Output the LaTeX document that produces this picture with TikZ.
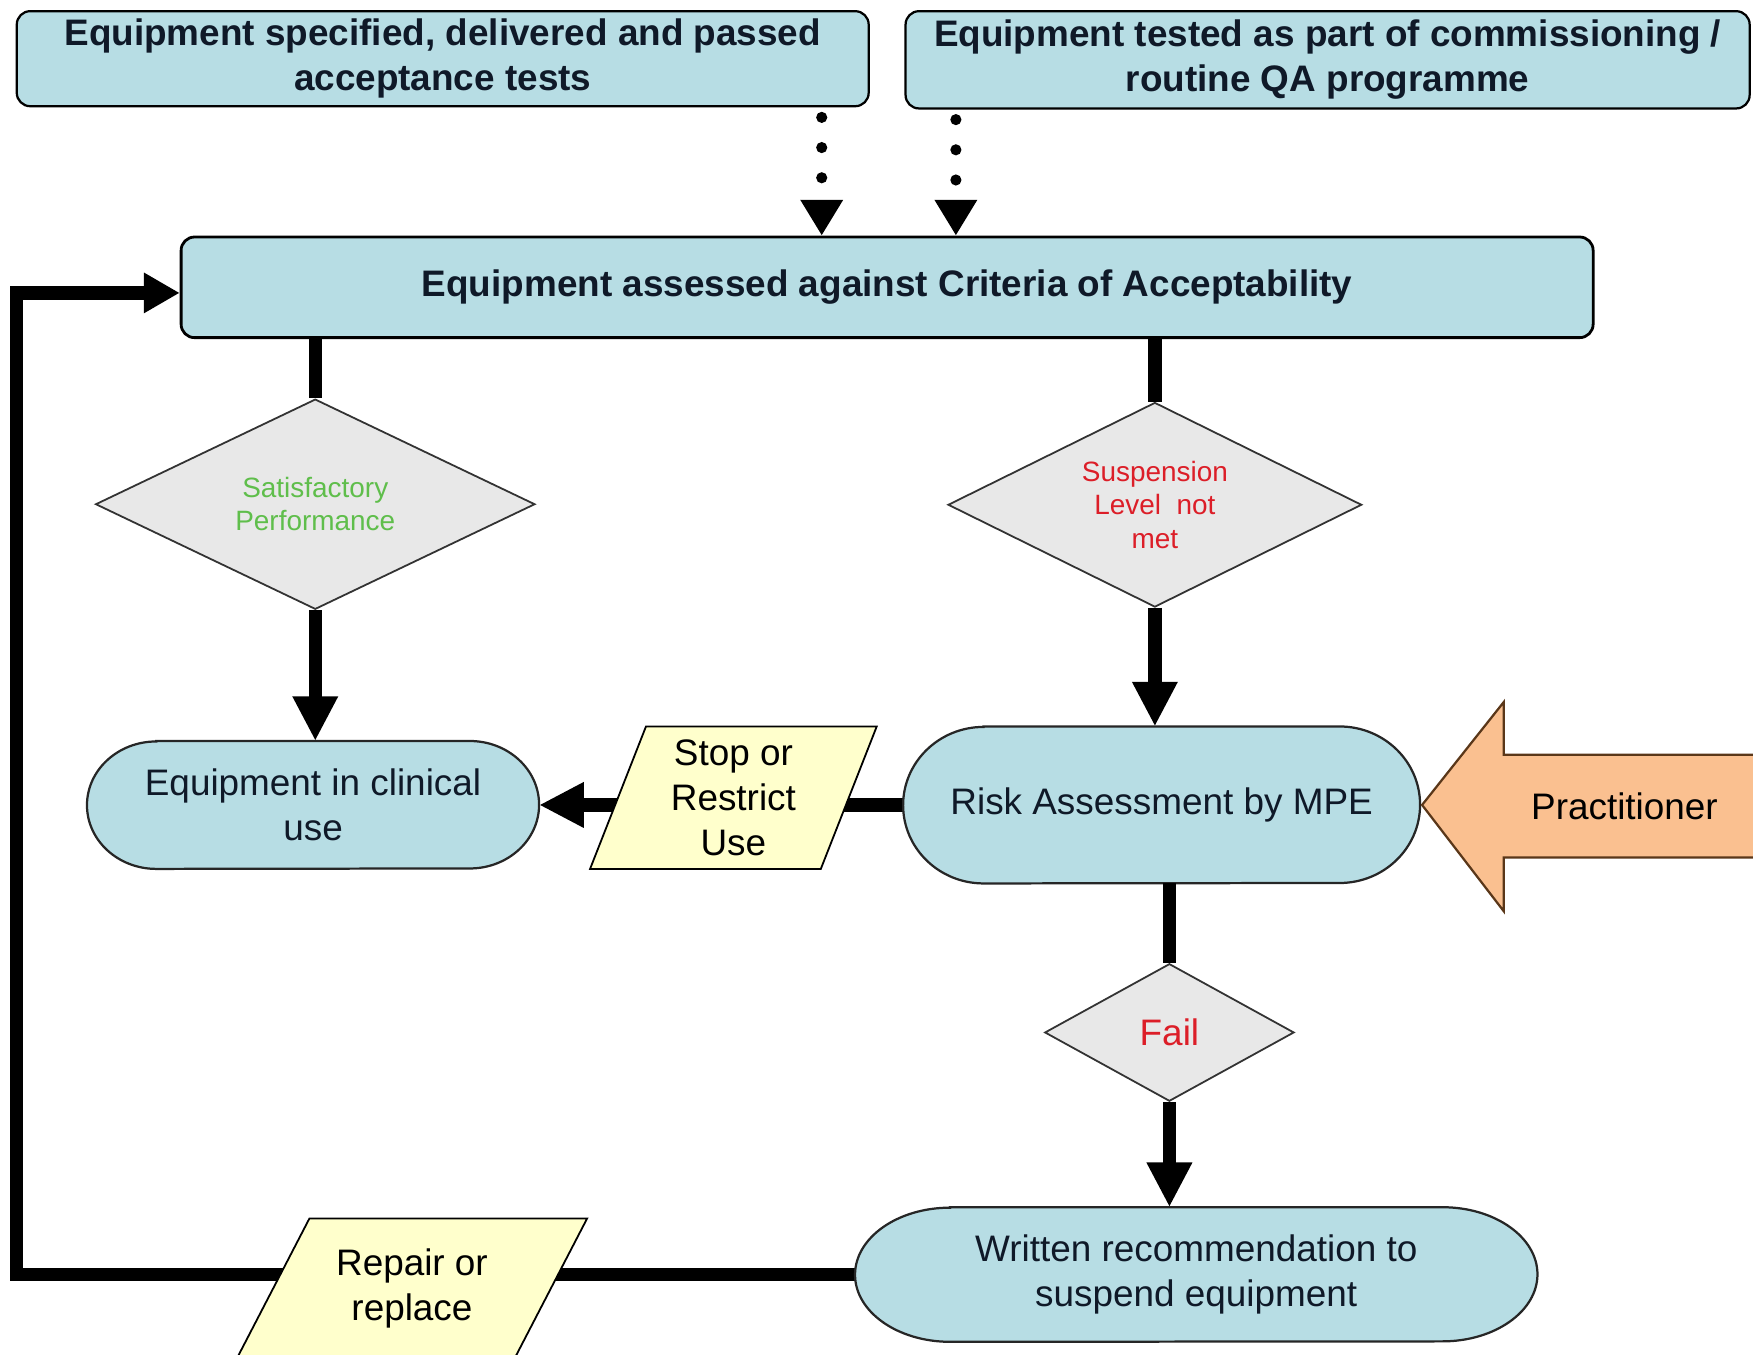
\documentclass[tikz,border=0pt]{standalone}
\usepackage{fontspec}
\setmainfont{Liberation Sans}
\usetikzlibrary{arrows.meta,shapes.geometric,calc,backgrounds}
\definecolor{boxblue}{RGB}{183,221,228}
\definecolor{dgray}{RGB}{232,232,232}
\definecolor{pyellow}{RGB}{255,255,204}
\definecolor{porange}{RGB}{250,192,144}
\definecolor{pbrown}{RGB}{90,55,25}
\definecolor{okgreen}{RGB}{95,190,75}
\definecolor{badred}{RGB}{220,30,40}
\definecolor{ink}{RGB}{15,25,40}
\newcommand{\capsule}[3]{%
  \draw[capline] ($(#1.north west)+(#2,0)$) -- ($(#1.north east)+(-#2,0)$)
    arc[start angle=90,end angle=-90,x radius=#2,y radius=#3]
    -- ($(#1.south west)+(#2,0)$)
    arc[start angle=270,end angle=90,x radius=#2,y radius=#3] -- cycle;}
\newcommand{\parash}[2]{%
  \draw[paraline] ($(#1.north west)+(#2,0)$) -- ($(#1.north east)+(#2,0)$)
    -- ($(#1.south east)+(-#2,0)$) -- ($(#1.south west)+(-#2,0)$) -- cycle;}
\begin{document}
\begin{tikzpicture}[x=1pt,y=1pt,
 topbox/.style={draw=black, line width=2pt, fill=boxblue, rounded corners=12pt, align=center, text=ink, font=\bfseries\fontsize{33}{40}\selectfont, inner sep=0pt},
 capnode/.style={align=center, text=ink, font=\fontsize{33}{40}\selectfont, inner sep=0pt},
 capline/.style={draw=black!85, line width=2pt, fill=boxblue},
 decision/.style={diamond, aspect=2, draw=black!80, line width=1.6pt, fill=dgray, inner sep=0pt, align=center, font=\fontsize{25}{30}\selectfont},
 paranode/.style={align=center, text=black, font=\fontsize{33}{40}\selectfont, inner sep=0pt},
 paraline/.style={draw=black, line width=1.6pt, fill=pyellow},
 conn/.style={line width=12pt},
 arr/.style={conn, -{Triangle[length=40pt,width=38pt]}},
 dotarr/.style={line width=10pt, line cap=round, dash pattern=on 0pt off 27pt, shorten <=9pt, -{Triangle[length=32pt,width=36pt]}},
]
\useasboundingbox (0,0) rectangle (1568,-1212);

% boxes
\node[topbox, minimum width=762pt, minimum height=85pt] (top1) at (396,-52.5) {Equipment specified, delivered and passed\\acceptance tests};
\node[topbox, minimum width=755pt, minimum height=87pt] (top2) at (1187.5,-53.5) {Equipment tested as part of commissioning /\\routine QA programme};
\node[topbox, line width=2.5pt, minimum width=1263pt, minimum height=90pt] (main) at (793.5,-257) {Equipment assessed against Criteria of Acceptability};

% decisions
\node[decision, minimum width=393pt, minimum height=188pt, text=okgreen] (d1) at (282,-451) {Satisfactory\\Performance};
\node[decision, minimum width=370pt, minimum height=183pt, text=badred] (d2) at (1033,-451.5) {Suspension\\Level\ \ not\\met};
\node[decision, minimum width=223pt, minimum height=123pt, text=badred, font=\fontsize{33}{40}\selectfont] (d3) at (1046,-923.5) {Fail};

% terminals
\node[capnode, minimum width=404pt, minimum height=114pt] (t1) at (280,-720) {Equipment in clinical\\use};
\node[capnode, minimum width=462pt, minimum height=140pt] (rk) at (1039,-720) {Risk Assessment by MPE};
\node[capnode, minimum width=610pt, minimum height=120pt] (wr) at (1070,-1140) {Written recommendation to\\suspend equipment};

% parallelograms
\node[paranode, minimum width=206pt, minimum height=127pt] (stop) at (656,-713.5) {Stop or\\Restrict\\Use};
\node[paranode, minimum width=248pt, minimum height=125pt] (rep) at (368.5,-1152.5) {Repair or\\replace};

\coordinate (lp) at (15,-1140);
\coordinate (da) at (735,0);
\coordinate (db) at (855,0);

\begin{scope}[on background layer]
  \draw[arr] (rk.west) -- (t1.east);
  \draw[conn, -{Triangle[length=32pt,width=34pt]}] (wr.west) -- (lp) |- ([yshift=-5pt]main.west);
  \capsule{t1}{62}{57}
  \capsule{rk}{72}{70}
  \capsule{wr}{85}{60}
  \parash{stop}{25}
  \parash{rep}{32.5}
\end{scope}

% practitioner block arrow
\draw[fill=porange, draw=pbrown, line width=2pt] (1272,-720) -- (1345,-628) -- (1345,-675) -- (1580,-675) -- (1580,-767) -- (1345,-767) -- (1345,-815) -- cycle;
\node[capnode, text=black] (pr) at (1453,-721) {Practitioner};

% connectors
\draw[dotarr] (top1.south -| da) -- (main.north -| da);
\draw[dotarr] (top2.south -| db) -- (main.north -| db);
\draw[conn] (d1.north |- main.south) -- (d1.north);
\draw[arr] (d1.south) -- (d1.south |- t1.north);
\draw[conn] (d2.north |- main.south) -- (d2.north);
\draw[arr] (d2.south) -- (d2.south |- rk.north);
\draw[conn] (d3.north |- rk.south) -- (d3.north);
\draw[arr] (d3.south) -- (d3.south |- wr.north);
\end{tikzpicture}
\end{document}
